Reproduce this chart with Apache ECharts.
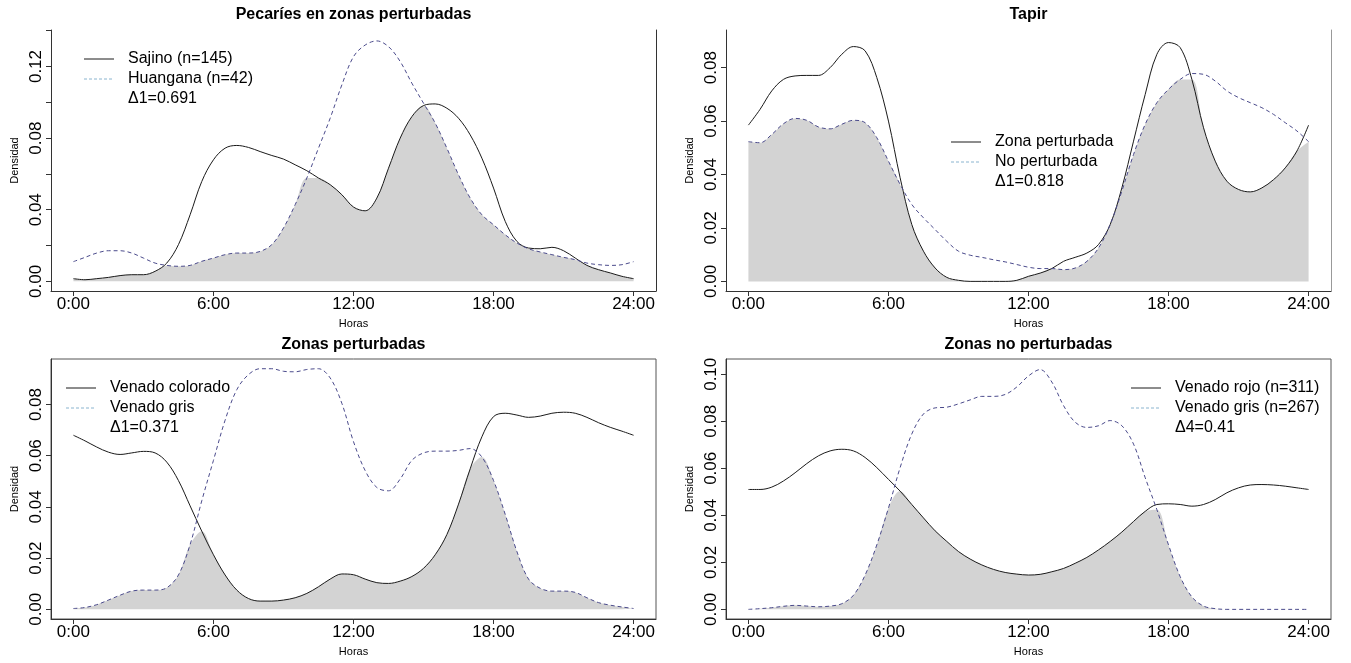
<!DOCTYPE html>
<html>
<head>
<meta charset="utf-8">
<title>Densidad de actividad</title>
<script src="https://cdn.jsdelivr.net/npm/echarts@6/dist/echarts.min.js"></script>
<style>
  html, body { margin: 0; padding: 0; background: #fff; }
  #chart { width: 1351px; height: 663px; }
</style>
</head>
<body>
<div id="chart"></div>
<script>
// horas del día (cada media hora)
var horas = [0, 0.5, 1, 1.5, 2, 2.5, 3, 3.5, 4, 4.5, 5, 5.5, 6, 6.5, 7, 7.5, 8, 8.5, 9, 9.5, 10, 10.5, 11, 11.5, 12,
  12.5, 13, 13.5, 14, 14.5, 15, 15.5, 16, 16.5, 17, 17.5, 18, 18.5, 19, 19.5, 20, 20.5, 21, 21.5, 22, 22.5, 23, 23.5, 24];
var horaTicks = [0, 6, 12, 18, 24];

// Pecaríes en zonas perturbadas
var sajino = [0.0015, 0.0009, 0.0015, 0.0022, 0.0032, 0.0037, 0.0037, 0.0056, 0.0102, 0.0205, 0.0372, 0.0558, 0.0679,
  0.0744, 0.0759, 0.0748, 0.0725, 0.0703, 0.0683, 0.0651, 0.0618, 0.0577, 0.054, 0.0484, 0.0415,
  0.0394, 0.0465, 0.0632, 0.080, 0.092, 0.0982, 0.0991, 0.0967, 0.0911, 0.0818, 0.0688, 0.0521, 0.0335,
  0.0223, 0.0186, 0.0182, 0.019, 0.0171, 0.013, 0.0089, 0.0065, 0.0047, 0.0028, 0.0015];
var huangana = [0.011, 0.0134, 0.0158, 0.0171, 0.0171, 0.0158, 0.013, 0.0102, 0.0089, 0.0084, 0.0089, 0.0112, 0.013,
  0.0149, 0.0158, 0.0158, 0.0167, 0.0205, 0.0298, 0.0428, 0.0577, 0.0744, 0.0911, 0.1097, 0.1255,
  0.132, 0.1343, 0.1311, 0.1228, 0.1107, 0.0995, 0.0884, 0.0744, 0.0595, 0.0465, 0.0372, 0.0316, 0.026,
  0.0214, 0.0182, 0.0164, 0.0149, 0.0134, 0.0121, 0.0102, 0.0093, 0.0089, 0.0093, 0.011];

// Tapir
var tapirPerturbada = [0.0585, 0.0644, 0.0713, 0.0756, 0.0769, 0.0771, 0.0771, 0.080, 0.085, 0.0879, 0.0863, 0.0763, 0.060,
  0.0388, 0.0213, 0.0113, 0.005, 0.0015, 0.0004, 0, 0, 0, 0, 0.0004, 0.0019,
  0.0031, 0.0048, 0.0075, 0.009, 0.0106, 0.0138, 0.0213, 0.035, 0.0525, 0.070, 0.085, 0.0894, 0.0875,
  0.0756, 0.0575, 0.045, 0.0375, 0.0344, 0.0335, 0.035, 0.0381, 0.0425, 0.0488, 0.0585];
var tapirNoPerturbada = [0.0523, 0.0519, 0.055, 0.059, 0.061, 0.0603, 0.0578, 0.0571, 0.0588, 0.0603, 0.0594, 0.0538, 0.045,
  0.0363, 0.0288, 0.0238, 0.0194, 0.015, 0.0113, 0.0098, 0.009, 0.0081, 0.0073, 0.0063, 0.0053,
  0.0048, 0.0048, 0.0044, 0.005, 0.0075, 0.0125, 0.0213, 0.0338, 0.0475, 0.0588, 0.0669, 0.0719, 0.0756,
  0.0778, 0.0775, 0.075, 0.0713, 0.0688, 0.0669, 0.065, 0.0625, 0.0594, 0.0563, 0.0523];

// Zonas perturbadas
var colorado = [0.068, 0.0658, 0.0634, 0.0614, 0.0605, 0.0611, 0.0617, 0.0611, 0.0575, 0.0503, 0.0404, 0.0305, 0.0213,
  0.0134, 0.0075, 0.0042, 0.0032, 0.0032, 0.0036, 0.0045, 0.0062, 0.0088, 0.0118, 0.0138, 0.0135,
  0.0118, 0.0104, 0.0101, 0.011, 0.0128, 0.016, 0.0213, 0.0292, 0.0411, 0.0549, 0.0674, 0.0753, 0.0766,
  0.0759, 0.075, 0.0755, 0.0766, 0.077, 0.0766, 0.075, 0.0729, 0.0711, 0.0696, 0.068];
var grisPerturbada = [0.0003, 0.0007, 0.0018, 0.0036, 0.0055, 0.0071, 0.0075, 0.0075, 0.0084, 0.0134, 0.0253, 0.0424, 0.0582,
  0.0739, 0.0858, 0.0917, 0.094, 0.094, 0.093, 0.0928, 0.0937, 0.094, 0.0904, 0.0805, 0.0655,
  0.0542, 0.0476, 0.0463, 0.0509, 0.0582, 0.0611, 0.0618, 0.0618, 0.0621, 0.0628, 0.0595, 0.0503, 0.0371,
  0.0226, 0.0118, 0.0082, 0.0071, 0.0071, 0.0066, 0.0045, 0.0026, 0.0016, 0.0009, 0.0003];

// Zonas no perturbadas
var rojo = [0.051, 0.051, 0.052, 0.0546, 0.0581, 0.062, 0.0653, 0.0674, 0.0681, 0.0674, 0.0646, 0.0603, 0.0553,
  0.0503, 0.0446, 0.0389, 0.0334, 0.0289, 0.0246, 0.0214, 0.0189, 0.017, 0.0157, 0.015, 0.0146,
  0.0149, 0.016, 0.0174, 0.0196, 0.0221, 0.0253, 0.0289, 0.0329, 0.0374, 0.0417, 0.0446, 0.0449, 0.0446,
  0.0439, 0.0446, 0.0467, 0.0496, 0.0517, 0.0529, 0.0531, 0.0529, 0.0524, 0.0517, 0.051];
var grisNoPerturbada = [0, 0.0003, 0.0007, 0.0013, 0.0017, 0.0014, 0.0011, 0.0014, 0.0024, 0.006, 0.0146, 0.0274, 0.0431,
  0.0603, 0.0746, 0.0831, 0.0857, 0.086, 0.0874, 0.0891, 0.0906, 0.0906, 0.0914, 0.0946, 0.0993,
  0.102, 0.0967, 0.0867, 0.0796, 0.0774, 0.0781, 0.0803, 0.0781, 0.0703, 0.056, 0.0424, 0.0274, 0.0139,
  0.0053, 0.0014, 0.0003, 0, 0, 0, 0, 0, 0, 0, 0];

// ticks del eje y
var yTicks1 = [0, 0.02, 0.04, 0.06, 0.08, 0.10, 0.12, 0.14];
var yLabels1 = [0, 0.04, 0.08, 0.12];
var yTicks2 = [0, 0.02, 0.04, 0.06, 0.08];
var yTicks3 = [0, 0.02, 0.04, 0.06, 0.08];
var yTicks4 = [0, 0.02, 0.04, 0.06, 0.08, 0.10];

var fuente = '"Liberation Sans", Arial, sans-serif';
var colorDash = '#4b4b8c';

var paneles = [
  { titulo: 'Pecaríes en zonas perturbadas', left: 51, top: 30, height: 261, ymin: -0.0054, ymax: 0.1404,
    yTicks: yTicks1, yLabels: yLabels1, a: sajino, b: huangana,
    nombreA: 'Sajino (n=145)', nombreB: 'Huangana (n=42)', delta: 'Δ1=0.691',
    leyenda: { left: 83, top: 49 }, caja: false, tituloY: 15 },
  { titulo: 'Tapir', left: 726, top: 30, height: 261, ymin: -0.0036, ymax: 0.0941,
    yTicks: yTicks2, yLabels: yTicks2, a: tapirPerturbada, b: tapirNoPerturbada,
    nombreA: 'Zona perturbada', nombreB: 'No perturbada', delta: 'Δ1=0.818',
    leyenda: { left: 950, top: 132 }, caja: false, tituloY: 15 },
  { titulo: 'Zonas perturbadas', left: 51, top: 359, height: 260, ymin: -0.0038, ymax: 0.0978,
    yTicks: yTicks3, yLabels: yTicks3, a: colorado, b: grisPerturbada,
    nombreA: 'Venado colorado', nombreB: 'Venado gris', delta: 'Δ1=0.371',
    leyenda: { left: 65, top: 378 }, caja: true, tituloY: 345 },
  { titulo: 'Zonas no perturbadas', left: 726, top: 359, height: 260, ymin: -0.0041, ymax: 0.1065,
    yTicks: yTicks4, yLabels: yTicks4, a: rojo, b: grisNoPerturbada,
    nombreA: 'Venado rojo (n=311)', nombreB: 'Venado gris (n=267)', delta: 'Δ4=0.41',
    leyenda: { left: 1130, top: 378 }, caja: true, tituloY: 345 }
];

function pares(valores) {
  return horas.map(function (h, i) { return [h, valores[i]]; });
}
// área de solapamiento = mínimo de las dos densidades
function solape(a, b) {
  return horas.map(function (h, i) { return [h, Math.min(a[i], b[i])]; });
}

var grids = [], xAxes = [], yAxes = [], series = [], legends = [], graphics = [];

paneles.forEach(function (p, i) {
  grids.push({
    left: p.left, top: p.top, width: 605, height: p.height,
    show: p.caja, borderColor: '#555', borderWidth: 1
  });

  xAxes.push({
    type: 'value', gridIndex: i, min: -0.96, max: 24.96,
    name: 'Horas', nameLocation: 'middle', nameGap: 27,
    nameTextStyle: { fontSize: 11, color: '#000', fontFamily: fuente },
    axisLine: { show: true, onZero: false, lineStyle: { color: '#333', width: 1 } },
    axisTick: { show: true, length: 5, customValues: horaTicks, lineStyle: { color: '#333' } },
    axisLabel: {
      customValues: horaTicks, margin: 5, fontSize: 17, color: '#000', fontFamily: fuente,
      formatter: function (v) { return v + ':00'; }
    },
    splitLine: { show: false }
  });

  var yIndex = yAxes.length;
  yAxes.push({
    type: 'value', gridIndex: i, min: p.ymin, max: p.ymax,
    name: 'Densidad', nameLocation: 'middle', nameGap: 31,
    nameTextStyle: { fontSize: 11, color: '#000', fontFamily: fuente },
    axisLine: { show: true, onZero: false, lineStyle: { color: '#333', width: 1 } },
    axisTick: { show: true, length: 5, customValues: p.yTicks, lineStyle: { color: '#333' } },
    axisLabel: {
      customValues: p.yLabels, rotate: 90, margin: 6, fontSize: 17, color: '#000', fontFamily: fuente,
      formatter: function (v) { return v.toFixed(2); }
    },
    splitLine: { show: false }
  });
  if (!p.caja) {
    // borde derecho (sin borde superior)
    yAxes.push({
      type: 'value', gridIndex: i, position: 'right', min: p.ymin, max: p.ymax,
      axisLine: { show: true, onZero: false, lineStyle: { color: i === 1 ? '#999' : '#333', width: 1 } },
      axisTick: { show: false }, axisLabel: { show: false }, splitLine: { show: false }
    });
  }

  series.push({
    name: 'solape' + i, type: 'line', xAxisIndex: i, yAxisIndex: yIndex,
    data: solape(p.a, p.b), smooth: 0.35, symbol: 'none', silent: true, z: 1,
    lineStyle: { width: 0 },
    areaStyle: { color: '#d3d3d3', opacity: 1 }
  });
  series.push({
    name: p.nombreA, type: 'line', xAxisIndex: i, yAxisIndex: yIndex,
    data: pares(p.a), smooth: 0.35, symbol: 'none', z: 3,
    lineStyle: { color: '#1a1a1a', width: 1 }, itemStyle: { color: '#1a1a1a' }
  });
  series.push({
    name: p.nombreB, type: 'line', xAxisIndex: i, yAxisIndex: yIndex,
    data: pares(p.b), smooth: 0.35, symbol: 'none', z: 3,
    lineStyle: { color: colorDash, width: 1, type: [4, 3] }, itemStyle: { color: colorDash }
  });
  // texto del coeficiente de solapamiento en la leyenda
  series.push({ name: p.delta, type: 'line', xAxisIndex: i, yAxisIndex: yIndex, data: [] });

  legends.push({
    data: [
      { name: p.nombreA, lineStyle: { color: '#1a1a1a', width: 1 } },
      { name: p.nombreB, lineStyle: { color: '#8ab4cf', width: 1, type: [3, 2] } },
      { name: p.delta, lineStyle: { opacity: 0 }, itemStyle: { opacity: 0 } }
    ],
    orient: 'vertical', left: p.leyenda.left, top: p.leyenda.top,
    padding: 0, itemGap: 0, itemWidth: 30, itemHeight: 14, selectedMode: false,
    itemStyle: { opacity: 0 },
    textStyle: { fontSize: 16, color: '#000', fontFamily: fuente, lineHeight: 20, padding: [0, 0, 0, 9] }
  });

  graphics.push({
    type: 'text', x: p.left + 302.5, y: p.tituloY,
    style: {
      text: p.titulo, align: 'center', verticalAlign: 'middle',
      font: 'bold 16px ' + fuente, fill: '#000'
    }
  });
});

var chart = echarts.init(document.getElementById('chart'));
chart.setOption({
  animation: false,
  backgroundColor: '#fff',
  grid: grids,
  xAxis: xAxes,
  yAxis: yAxes,
  legend: legends,
  graphic: graphics,
  series: series
});
</script>
</body>
</html>
